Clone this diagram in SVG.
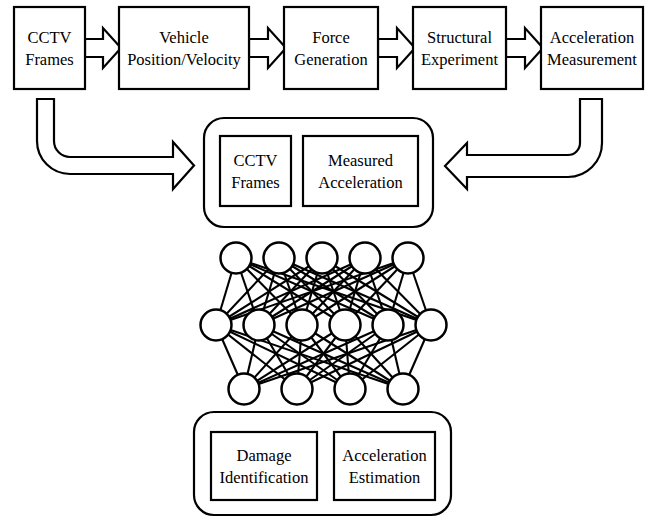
<svg xmlns="http://www.w3.org/2000/svg" width="652" height="517" viewBox="0 0 652 517">
<style>
.box{fill:#fff;stroke:#000;stroke-width:2.2}
.rbox{fill:#fff;stroke:#000;stroke-width:2.2}
.arr{fill:#fff;stroke:#000;stroke-width:2.2;stroke-linejoin:miter}
.t{font-family:"Liberation Serif",serif;font-size:16.5px;fill:#000;text-anchor:middle}
.nn line{stroke:#000;stroke-width:2.1}
.neuron{fill:#fff;stroke:#000;stroke-width:2.5}
</style>
<rect width="652" height="517" fill="#fff"/>
<g id="connectors">
<polygon class="arr" points="85,39 103,39 103,28 121,48 103,68 103,57 85,57"/>
<polygon class="arr" points="249,39 268,39 268,28 286,48 268,68 268,57 249,57"/>
<polygon class="arr" points="378,39 397,39 397,28 415,48 397,68 397,57 378,57"/>
<polygon class="arr" points="506,39 525,39 525,28 543,48 525,68 525,57 506,57"/>
<path class="arr" d="M37,99 L54,99 L54,141 A16,16 0 0 0 70,157 L173,157 L173,142 L194,165.5 L173,189 L173,174 L70,174 A33,33 0 0 1 37,141 Z"/>
<path class="arr" d="M580,99 L602,99 L602,143 A34,34 0 0 1 568,177 L467,177 L467,189 L445,166 L467,143 L467,155 L568,155 A12,12 0 0 0 580,143 Z"/>
</g>
<g id="cctv">
<rect class="box" x="14" y="7" width="71" height="82"/>
<text class="t" x="49.5" y="43">CCTV</text>
<text class="t" x="49.5" y="65">Frames</text>
</g>
<g id="vehicle">
<rect class="box" x="119" y="7" width="130" height="82"/>
<text class="t" x="184" y="43">Vehicle</text>
<text class="t" x="184" y="65">Position/Velocity</text>
</g>
<g id="force">
<rect class="box" x="284" y="7" width="94" height="82"/>
<text class="t" x="331" y="43">Force</text>
<text class="t" x="331" y="65">Generation</text>
</g>
<g id="structural">
<rect class="box" x="413" y="7" width="93" height="82"/>
<text class="t" x="459.5" y="43">Structural</text>
<text class="t" x="459.5" y="65">Experiment</text>
</g>
<g id="accel-meas">
<rect class="box" x="541" y="7" width="102" height="82"/>
<text class="t" x="592" y="43">Acceleration</text>
<text class="t" x="592" y="65">Measurement</text>
</g>
<g id="input">
<rect class="rbox" x="204" y="118" width="229" height="109" rx="20" ry="20"/>
<rect class="box" x="220" y="136" width="71" height="70"/>
<text class="t" x="255.5" y="166">CCTV</text>
<text class="t" x="255.5" y="188">Frames</text>
<rect class="box" x="303" y="136" width="115" height="70"/>
<text class="t" x="360.5" y="166">Measured</text>
<text class="t" x="360.5" y="188">Acceleration</text>
</g>
<g id="network" class="nn">
<g id="nn-lines">
<line x1="236" y1="258" x2="216" y2="325"/><line x1="236" y1="258" x2="259" y2="325"/><line x1="236" y1="258" x2="302" y2="325"/><line x1="236" y1="258" x2="345" y2="325"/><line x1="236" y1="258" x2="388" y2="325"/><line x1="236" y1="258" x2="431" y2="325"/>
<line x1="279" y1="258" x2="216" y2="325"/><line x1="279" y1="258" x2="259" y2="325"/><line x1="279" y1="258" x2="302" y2="325"/><line x1="279" y1="258" x2="345" y2="325"/><line x1="279" y1="258" x2="388" y2="325"/><line x1="279" y1="258" x2="431" y2="325"/>
<line x1="322" y1="258" x2="216" y2="325"/><line x1="322" y1="258" x2="259" y2="325"/><line x1="322" y1="258" x2="302" y2="325"/><line x1="322" y1="258" x2="345" y2="325"/><line x1="322" y1="258" x2="388" y2="325"/><line x1="322" y1="258" x2="431" y2="325"/>
<line x1="365" y1="258" x2="216" y2="325"/><line x1="365" y1="258" x2="259" y2="325"/><line x1="365" y1="258" x2="302" y2="325"/><line x1="365" y1="258" x2="345" y2="325"/><line x1="365" y1="258" x2="388" y2="325"/><line x1="365" y1="258" x2="431" y2="325"/>
<line x1="408" y1="258" x2="216" y2="325"/><line x1="408" y1="258" x2="259" y2="325"/><line x1="408" y1="258" x2="302" y2="325"/><line x1="408" y1="258" x2="345" y2="325"/><line x1="408" y1="258" x2="388" y2="325"/><line x1="408" y1="258" x2="431" y2="325"/>
<line x1="216" y1="325" x2="244" y2="389"/><line x1="216" y1="325" x2="297" y2="389"/><line x1="216" y1="325" x2="350" y2="389"/><line x1="216" y1="325" x2="403" y2="389"/>
<line x1="259" y1="325" x2="244" y2="389"/><line x1="259" y1="325" x2="297" y2="389"/><line x1="259" y1="325" x2="350" y2="389"/><line x1="259" y1="325" x2="403" y2="389"/>
<line x1="302" y1="325" x2="244" y2="389"/><line x1="302" y1="325" x2="297" y2="389"/><line x1="302" y1="325" x2="350" y2="389"/><line x1="302" y1="325" x2="403" y2="389"/>
<line x1="345" y1="325" x2="244" y2="389"/><line x1="345" y1="325" x2="297" y2="389"/><line x1="345" y1="325" x2="350" y2="389"/><line x1="345" y1="325" x2="403" y2="389"/>
<line x1="388" y1="325" x2="244" y2="389"/><line x1="388" y1="325" x2="297" y2="389"/><line x1="388" y1="325" x2="350" y2="389"/><line x1="388" y1="325" x2="403" y2="389"/>
<line x1="431" y1="325" x2="244" y2="389"/><line x1="431" y1="325" x2="297" y2="389"/><line x1="431" y1="325" x2="350" y2="389"/><line x1="431" y1="325" x2="403" y2="389"/>
</g>
<g id="nn-neurons">
<circle class="neuron" cx="236" cy="258" r="15.5"/><circle class="neuron" cx="279" cy="258" r="15.5"/><circle class="neuron" cx="322" cy="258" r="15.5"/><circle class="neuron" cx="365" cy="258" r="15.5"/><circle class="neuron" cx="408" cy="258" r="15.5"/>
<circle class="neuron" cx="216" cy="325" r="15.5"/><circle class="neuron" cx="259" cy="325" r="15.5"/><circle class="neuron" cx="302" cy="325" r="15.5"/><circle class="neuron" cx="345" cy="325" r="15.5"/><circle class="neuron" cx="388" cy="325" r="15.5"/><circle class="neuron" cx="431" cy="325" r="15.5"/>
<circle class="neuron" cx="244" cy="389" r="15.5"/><circle class="neuron" cx="297" cy="389" r="15.5"/><circle class="neuron" cx="350" cy="389" r="15.5"/><circle class="neuron" cx="403" cy="389" r="15.5"/>
</g>
</g>
<g id="output">
<rect class="rbox" x="194" y="412" width="257" height="103" rx="20" ry="20"/>
<rect class="box" x="211" y="432" width="106" height="68"/>
<text class="t" x="264" y="461">Damage</text>
<text class="t" x="264" y="483">Identification</text>
<rect class="box" x="334" y="432" width="101" height="68"/>
<text class="t" x="384.5" y="461">Acceleration</text>
<text class="t" x="384.5" y="483">Estimation</text>
</g>
</svg>
